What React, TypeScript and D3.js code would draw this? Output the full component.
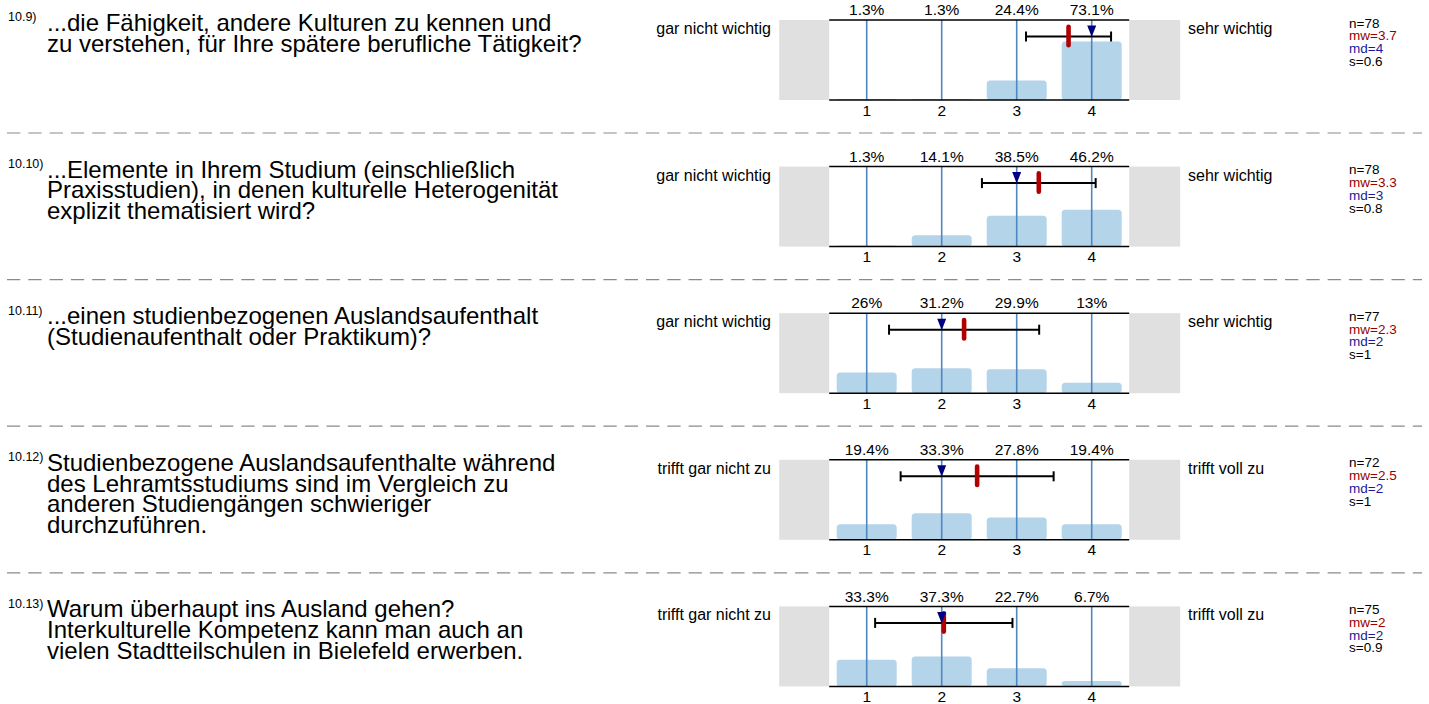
import * as d3 from "d3";

// survey items
const itemIds = ["10.9)", "10.10)", "10.11)", "10.12)", "10.13)"];

const questionLines = [
  ["...die Fähigkeit, andere Kulturen zu kennen und", "zu verstehen, für Ihre spätere berufliche Tätigkeit?"],
  ["...Elemente in Ihrem Studium (einschließlich", "Praxisstudien), in denen kulturelle Heterogenität", "explizit thematisiert wird?"],
  ["...einen studienbezogenen Auslandsaufenthalt", "(Studienaufenthalt oder Praktikum)?"],
  ["Studienbezogene Auslandsaufenthalte während", "des Lehramtsstudiums sind im Vergleich zu", "anderen Studiengängen schwieriger", "durchzuführen."],
  ["Warum überhaupt ins Ausland gehen?", "Interkulturelle Kompetenz kann man auch an", "vielen Stadtteilschulen in Bielefeld erwerben."],
];

const leftLabels = ["gar nicht wichtig", "gar nicht wichtig", "gar nicht wichtig", "trifft gar nicht zu", "trifft gar nicht zu"];
const rightLabels = ["sehr wichtig", "sehr wichtig", "sehr wichtig", "trifft voll zu", "trifft voll zu"];

const categories = [1, 2, 3, 4];

// percentage per answer category
const percents = [
  [1.3, 1.3, 24.4, 73.1],
  [1.3, 14.1, 38.5, 46.2],
  [26, 31.2, 29.9, 13],
  [19.4, 33.3, 27.8, 19.4],
  [33.3, 37.3, 22.7, 6.7],
];

const counts = [78, 78, 77, 72, 75];

const FONT = "Arial, 'Liberation Sans', Helvetica, sans-serif";
const W = 1429;
const H = 704;
const blockH = 146.6;
const firstTop = 20;
const plotH = 80;

const fmt1 = d3.format(".1~f");

// mean, sd and median from the answer distribution
function stats(p: number[], n: number) {
  const w = p.map((v) => v / 100);
  const tot = d3.sum(w);
  const mean = d3.sum(w, (v, i) => v * categories[i]) / tot;
  const v = d3.sum(w, (q, i) => q * (categories[i] - mean) ** 2) / tot;
  const sd = Math.sqrt(v * n / (n - 1));
  let cum = 0;
  let median = categories[categories.length - 1];
  for (let i = 0; i < w.length; i++) {
    cum += w[i] / tot;
    if (cum >= 0.5) { median = categories[i]; break; }
  }
  return { mean, sd, median };
}

function Block({ idx }: { idx: number }) {
  const top = firstTop + idx * blockH;
  const bottom = top + plotH;
  const x = d3.scaleLinear().domain([0.5, 4.5]).range([829.2, 1129.2]);
  const y = d3.scaleLinear().domain([0, 100]).range([bottom, top]);
  const step = x(2) - x(1);
  const barW = step * 0.8;
  const p = percents[idx];
  const { mean, sd, median } = stats(p, counts[idx]);
  const ey = top + 16.5;
  const mx = x(median);

  return (
    <g>
      {/* question */}
      <text x={8} y={top + 1.3} fontSize={12.5} fill="#000">{itemIds[idx]}</text>
      <text fontSize={24} fill="#000">
        {questionLines[idx].map((l, i) => (
          <tspan key={i} x={47} y={top + 11 + i * 20.8}>{l}</tspan>
        ))}
      </text>

      {/* side labels */}
      <text x={771} y={top + 14} fontSize={16} textAnchor="end">{leftLabels[idx]}</text>
      <text x={1188} y={top + 14} fontSize={16}>{rightLabels[idx]}</text>

      {/* grey end boxes */}
      <rect x={x(0.5) - 50} y={top} width={50} height={plotH} fill="#e0e0e0" />
      <rect x={x(4.5)} y={top} width={51} height={plotH} fill="#e0e0e0" />

      {/* bars */}
      {p.map((v, i) => (
        <rect key={i} x={x(categories[i]) - barW / 2} y={y(v)} width={barW} height={bottom - y(v)}
          rx={3.5} fill="#b4d4ea" />
      ))}

      {/* category lines */}
      {categories.map((c) => (
        <line key={c} x1={x(c)} x2={x(c)} y1={top} y2={bottom} stroke="#4f87c0" strokeWidth={1.6} />
      ))}

      <line x1={x(0.5)} x2={x(4.5)} y1={top} y2={top} stroke="#000" strokeWidth={1.5} />
      <line x1={x(0.5)} x2={x(4.5)} y1={bottom} y2={bottom} stroke="#000" strokeWidth={1.5} />

      {/* percent labels */}
      {p.map((v, i) => (
        <text key={i} x={x(categories[i])} y={top - 4.8} fontSize={15.5} textAnchor="middle">{fmt1(v)}%</text>
      ))}
      {/* tick labels */}
      {categories.map((c) => (
        <text key={c} x={x(c)} y={bottom + 15.5} fontSize={15.5} textAnchor="middle">{c}</text>
      ))}

      {/* sd bar */}
      <g stroke="#000" strokeWidth={2}>
        <line x1={x(mean - sd)} x2={x(mean + sd)} y1={ey} y2={ey} />
        <line x1={x(mean - sd)} x2={x(mean - sd)} y1={ey - 5} y2={ey + 5} />
        <line x1={x(mean + sd)} x2={x(mean + sd)} y1={ey - 5} y2={ey + 5} />
      </g>
      {/* mean */}
      <rect x={x(mean) - 2.3} y={top + 4.5} width={4.6} height={23} rx={2.3} fill="#b00000" />
      {/* median */}
      <path d={`M${mx - 4.5},${top + 5.5} L${mx + 4.5},${top + 5.5} L${mx},${top + 17} Z`} fill="#000080" />

      {/* stats */}
      <g fontSize={13.5}>
        <text x={1349} y={top + 7.5}>n={counts[idx]}</text>
        <text x={1349} y={top + 20.3} fill="#990000">mw={fmt1(mean)}</text>
        <text x={1349} y={top + 33.1} fill="#1a1a99">md={median}</text>
        <text x={1349} y={top + 45.9}>s={fmt1(sd)}</text>
      </g>

      {idx < itemIds.length - 1 && (
        <line x1={7} x2={1422} y1={top + 113} y2={top + 113} stroke="#8a8a8a" strokeWidth={1.2}
          strokeDasharray="13.3 8" />
      )}
    </g>
  );
}

export default function App() {
  return (
    <svg width={W} height={H} fontFamily={FONT}
      style={{ position: "absolute", left: 0, top: 0, background: "#fff" }}>
      {itemIds.map((_, i) => <Block key={i} idx={i} />)}
    </svg>
  );
}
